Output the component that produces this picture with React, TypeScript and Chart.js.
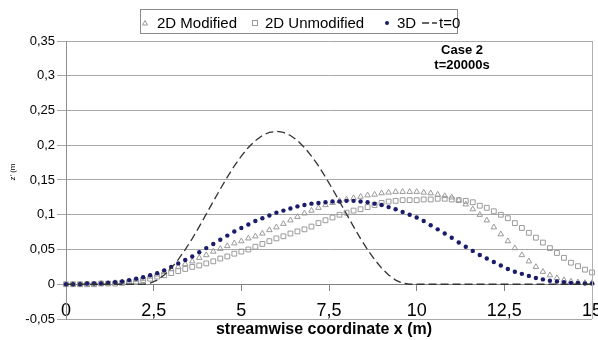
import React, { useEffect, useRef } from "react";
import { Chart, registerables } from "chart.js";

Chart.register(...registerables);

// ---------- data ----------
const xValues = [
  0, 0.2, 0.4, 0.6, 0.8, 1, 1.2, 1.4, 1.6, 1.8,
  2, 2.2, 2.4, 2.6, 2.8, 3, 3.2, 3.4, 3.6, 3.8,
  4, 4.2, 4.4, 4.6, 4.8, 5, 5.2, 5.4, 5.6, 5.8,
  6, 6.2, 6.4, 6.6, 6.8, 7, 7.2, 7.4, 7.6, 7.8,
  8, 8.2, 8.4, 8.6, 8.8, 9, 9.2, 9.4, 9.6, 9.8,
  10, 10.2, 10.4, 10.6, 10.8, 11, 11.2, 11.4, 11.6, 11.8,
  12, 12.2, 12.4, 12.6, 12.8, 13, 13.2, 13.4, 13.6, 13.8,
  14, 14.2, 14.4, 14.6, 14.8, 15,
];

const modified2D = [
  0, 0, 0, 0, 0, 0.001, 0.001, 0.002, 0.003, 0.004,
  0.006, 0.008, 0.011, 0.014, 0.018, 0.022, 0.025, 0.029, 0.033, 0.038,
  0.042, 0.047, 0.051, 0.055, 0.059, 0.062, 0.066, 0.069, 0.073, 0.078,
  0.082, 0.087, 0.092, 0.097, 0.102, 0.106, 0.110, 0.114, 0.117, 0.120,
  0.122, 0.124, 0.126, 0.128, 0.129, 0.131, 0.132, 0.133, 0.133, 0.133,
  0.133, 0.132, 0.131, 0.129, 0.127, 0.125, 0.121, 0.115, 0.108, 0.100,
  0.092, 0.082, 0.072, 0.062, 0.052, 0.042, 0.033, 0.025, 0.018, 0.013,
  0.009, 0.006, 0.004, 0.003, 0.002, 0.002,
];

const unmodified2D = [
  0, 0, 0, 0, 0, 0.001, 0.001, 0.001, 0.002, 0.003,
  0.004, 0.006, 0.008, 0.011, 0.013, 0.016, 0.019, 0.022, 0.025, 0.027,
  0.030, 0.033, 0.037, 0.040, 0.044, 0.047, 0.050, 0.054, 0.058, 0.062,
  0.066, 0.069, 0.073, 0.076, 0.079, 0.083, 0.088, 0.092, 0.096, 0.100,
  0.103, 0.106, 0.108, 0.111, 0.114, 0.117, 0.119, 0.120, 0.121, 0.121,
  0.121, 0.122, 0.122, 0.123, 0.123, 0.122, 0.121, 0.120, 0.118, 0.113,
  0.110, 0.105, 0.100, 0.095, 0.088, 0.081, 0.074, 0.067, 0.060, 0.052,
  0.045, 0.038, 0.031, 0.026, 0.021, 0.017,
];

const threeD = [
  0, 0, 0, 0.001, 0.001, 0.001, 0.002, 0.003, 0.004, 0.006,
  0.008, 0.010, 0.013, 0.016, 0.020, 0.025, 0.030, 0.035, 0.040, 0.046,
  0.052, 0.058, 0.064, 0.070, 0.076, 0.081, 0.086, 0.091, 0.095, 0.099,
  0.103, 0.106, 0.109, 0.112, 0.114, 0.116, 0.117, 0.118, 0.119, 0.119,
  0.120, 0.120, 0.119, 0.118, 0.116, 0.114, 0.111, 0.108, 0.104, 0.100,
  0.096, 0.091, 0.085, 0.079, 0.073, 0.067, 0.060, 0.054, 0.048, 0.042,
  0.037, 0.032, 0.027, 0.022, 0.018, 0.015, 0.012, 0.009, 0.007, 0.005,
  0.004, 0.003, 0.002, 0.002, 0.001, 0.001,
];

const initialT0 = [
  0, 0, 0, 0, 0, 0, 0, 0, 0, 0,
  0, 0, 0.0015, 0.006, 0.0133, 0.0232, 0.0355, 0.0498, 0.0656, 0.083,
  0.1009, 0.1191, 0.137, 0.1542, 0.1702, 0.1845, 0.1968, 0.2067, 0.2141, 0.2185,
  0.22, 0.2185, 0.2141, 0.2067, 0.1968, 0.1845, 0.1702, 0.1542, 0.137, 0.1191,
  0.1009, 0.083, 0.0656, 0.0498, 0.0355, 0.0232, 0.0133, 0.006, 0.0015, 0,
  0, 0, 0, 0, 0, 0, 0, 0, 0, 0,
  0, 0, 0, 0, 0, 0, 0, 0, 0, 0,
  0, 0, 0, 0, 0, 0,
];

const seriesNames = ["2D Modified", "2D Unmodified", "3D", "t=0"];

const xTickValues = [0, 2.5, 5, 7.5, 10, 12.5, 15];
const xTickLabels = ["0", "2,5", "5", "7,5", "10", "12,5", "15"];
const yTickValues = [-0.05, 0, 0.05, 0.1, 0.15, 0.2, 0.25, 0.3, 0.35];
const yTickLabels = ["-0,05", "0", "0,05", "0,1", "0,15", "0,2", "0,25", "0,3", "0,35"];

const xAxisTitle = "streamwise coordinate x (m)";
const yAxisTitle = "z' (m";
const annotationLines = ["Case 2", "t=20000s"];

// ---------- helpers ----------
const FONT = "'Liberation Sans', Arial, Helvetica, sans-serif";
const toPoints = (ys: number[]) => xValues.map((x, i) => ({ x, y: ys[i] }));
const labelFor = (vals: number[], labels: string[], v: number) => {
  const i = vals.findIndex((t) => Math.abs(t - v) < 1e-9);
  return i >= 0 ? labels[i] : "";
};

const NAVY = "#1b1b6b";
const GREY_MARK = "#9a9a9a";

const decorPlugin = {
  id: "decor",
  afterDraw(chart: any) {
    const { ctx, chartArea: ca } = chart;
    ctx.save();

    // right border of the plot area
    ctx.strokeStyle = "#b0b0b0";
    ctx.lineWidth = 1;
    ctx.beginPath();
    ctx.moveTo(Math.round(ca.right) + 0.5, ca.top);
    ctx.lineTo(Math.round(ca.right) + 0.5, ca.bottom);
    ctx.stroke();

    // legend box
    ctx.strokeStyle = "#8a8a8a";
    ctx.strokeRect(140.5, 9.5, 317, 24);

    const ly = 23;
    ctx.fillStyle = "#000";
    ctx.font = `15px ${FONT}`;
    ctx.textBaseline = "alphabetic";
    ctx.textAlign = "left";

    // triangle
    ctx.strokeStyle = GREY_MARK;
    ctx.lineWidth = 1;
    ctx.beginPath();
    ctx.moveTo(145, ly - 2.5);
    ctx.lineTo(147.5, ly + 2);
    ctx.lineTo(142.5, ly + 2);
    ctx.closePath();
    ctx.stroke();
    ctx.fillText(seriesNames[0], 157, 28);

    // square
    ctx.strokeRect(252.5, ly - 2.5, 5, 5);
    ctx.fillText(seriesNames[1], 265, 28);

    // dot
    ctx.fillStyle = NAVY;
    ctx.beginPath();
    ctx.arc(387, ly, 2, 0, Math.PI * 2);
    ctx.fill();
    ctx.fillStyle = "#000";
    ctx.fillText(seriesNames[2], 397, 28);

    // dashed line
    ctx.strokeStyle = "#333";
    ctx.lineWidth = 1.3;
    ctx.setLineDash([7, 3]);
    ctx.beginPath();
    ctx.moveTo(422, ly);
    ctx.lineTo(437, ly);
    ctx.stroke();
    ctx.setLineDash([]);
    ctx.fillText(seriesNames[3], 439, 28);

    // annotation
    ctx.font = `bold 13px ${FONT}`;
    ctx.textAlign = "center";
    ctx.textBaseline = "middle";
    ctx.fillText(annotationLines[0], 462, 50);
    ctx.fillText(annotationLines[1], 462, 65);

    // x axis title
    ctx.font = `bold 16px ${FONT}`;
    ctx.fillText(xAxisTitle, 324, 330);

    // y axis title (rotated)
    ctx.save();
    ctx.translate(13, 172);
    ctx.rotate(-Math.PI / 2);
    ctx.font = `8px ${FONT}`;
    ctx.fillText(yAxisTitle, 0, 0);
    ctx.restore();

    ctx.restore();
  },
};

export default function App() {
  const canvasRef = useRef<HTMLCanvasElement | null>(null);

  useEffect(() => {
    if (!canvasRef.current) return;
    Chart.defaults.font.family = FONT;
    const chart = new Chart(canvasRef.current, {
      type: "scatter",
      data: {
        datasets: [
          {
            label: seriesNames[3],
            type: "line",
            data: toPoints(initialT0),
            borderColor: "#333333",
            borderWidth: 1.3,
            borderDash: [8, 4],
            pointRadius: 0,
            fill: false,
            tension: 0,
            order: 0,
            clip: false as any,
          },
          {
            label: seriesNames[2],
            data: toPoints(threeD),
            pointStyle: "circle",
            pointRadius: 2.2,
            backgroundColor: NAVY,
            borderColor: NAVY,
            borderWidth: 0,
            showLine: false,
            order: 1,
            clip: false as any,
          },
          {
            label: seriesNames[1],
            data: toPoints(unmodified2D),
            pointStyle: "rect",
            pointRadius: 3.4,
            backgroundColor: "rgba(255,255,255,0)",
            borderColor: GREY_MARK,
            borderWidth: 1,
            showLine: false,
            order: 2,
            clip: false as any,
          },
          {
            label: seriesNames[0],
            data: toPoints(modified2D),
            pointStyle: "triangle",
            pointRadius: 3.2,
            backgroundColor: "rgba(255,255,255,0)",
            borderColor: GREY_MARK,
            borderWidth: 1,
            showLine: false,
            order: 3,
            clip: false as any,
          },
        ],
      },
      options: {
        responsive: false,
        animation: false,
        events: [],
        layout: { padding: { left: 0, right: 6, top: 41, bottom: 21 } },
        plugins: {
          legend: { display: false },
          title: { display: false },
          tooltip: { enabled: false },
        },
        scales: {
          x: {
            type: "linear",
            min: 0,
            max: 15,
            position: { y: 0 } as any,
            afterBuildTicks: (s: any) => {
              s.ticks = xTickValues.map((v) => ({ value: v }));
            },
            afterFit: (s: any) => {
              s.paddingLeft = 0;
              s.paddingRight = 0;
            },
            ticks: {
              autoSkip: false,
              maxRotation: 0,
              padding: 10,
              color: "#000",
              font: { size: 18, family: FONT },
              callback: (v: any) => labelFor(xTickValues, xTickLabels, Number(v)),
            },
            grid: {
              drawOnChartArea: false,
              drawTicks: true,
              tickLength: 6,
              color: "#808080",
            },
            border: { display: true, color: "#808080", width: 1 },
          },
          y: {
            type: "linear",
            min: -0.05,
            max: 0.35,
            afterBuildTicks: (s: any) => {
              s.ticks = yTickValues.map((v) => ({ value: v }));
            },
            afterFit: (s: any) => {
              s.width = 66;
              s.paddingTop = 0;
              s.paddingBottom = 0;
            },
            ticks: {
              padding: 2,
              color: "#000",
              font: { size: 13, family: FONT },
              callback: (v: any) => labelFor(yTickValues, yTickLabels, Number(v)),
            },
            grid: {
              color: "#a8a8a8",
              tickLength: 9,
              drawTicks: true,
            },
            border: { display: true, color: "#909090", width: 1 },
          },
        },
      },
      plugins: [decorPlugin],
    });
    return () => chart.destroy();
  }, []);

  return (
    <div style={{ position: "absolute", left: 0, top: 0, width: 598, height: 340, background: "#fff" }}>
      <canvas ref={canvasRef} width={598} height={340} style={{ display: "block" }} />
    </div>
  );
}
